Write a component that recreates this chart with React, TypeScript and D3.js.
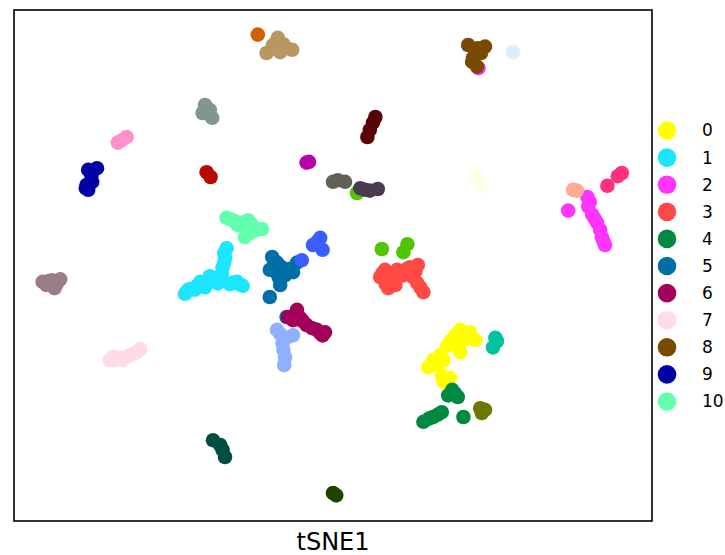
import * as d3 from 'd3';

type Pt = [number, number];

// palette used for the clusters (index = cluster id)
const palette: string[] = [
  '#FFFF00', '#1CE6FF', '#FF34FF', '#FF4A46', '#008941', '#006FA6', '#A30059', '#FFDBE5',
  '#7A4900', '#0000A6', '#63FFAC', '#B79762', '#004D43', '#8FB0FF', '#997D87', '#5A0007',
  '#809693', '#FEFFE6', '#1B4400', '#4FC601', '#3B5DFF', '#4A3B53', '#FF2F80', '#61615A',
  '#BA0900', '#6B7900', '#00C2A0', '#FFAA92', '#FF90C9', '#B903AA', '#D16100', '#DDEFFF',
];

const legendLabels = ['0', '1', '2', '3', '4', '5', '6', '7', '8', '9', '10'];

// tSNE coordinates per cluster
const c0: Pt[] = [[15.9, -8.1], [17.1, -8.4], [17.8, -9.4], [16.3, -9.4], [15.0, -9.8], [14.3, -10.1], [15.9, -10.9], [13.4, -11.3], [12.5, -11.9], [11.9, -12.8], [13.8, -11.9], [13.6, -13.8], [14.6, -14.1], [13.8, -14.6], [15.3, -8.8], [13.0, -12.5], [16.5, -8.6], [14.7, -9.5]];
const c1: Pt[] = [[-13.3, 2.1], [-13.5, 0.9], [-13.8, -0.3], [-13.9, -1.1], [-15.4, -1.4], [-16.6, -2.1], [-17.9, -3.0], [-18.5, -3.6], [-12.0, -2.1], [-11.3, -2.6], [-14.4, -2.3], [-12.9, -2.4], [-16.0, -2.8], [-17.3, -3.1], [-15.0, -1.9], [-14.7, -1.7], [-17.0, -2.6], [-18.2, -3.2], [-13.6, 1.5], [-13.6, 0.3], [-12.5, -2.2], [-11.7, -2.4]];
const c2: Pt[] = [[31.8, 8.5], [31.9, 7.3], [32.4, 6.3], [33.0, 5.3], [33.6, 3.5], [34.0, 2.5], [29.4, 6.8], [33.4, 4.4], [32.1, 7.9], [18.2, 24.6], [32.7, 5.8], [33.8, 3.0]];
const c3: Pt[] = [[6.5, -0.6], [5.9, -1.5], [7.1, -1.9], [6.9, -2.9], [8.0, -0.6], [9.6, -0.3], [10.6, 0.0], [10.0, -1.5], [10.9, -2.8], [11.3, -3.4], [8.8, -1.3], [7.8, -2.5], [6.2, -1.0], [7.5, -1.2], [9.2, -0.5], [10.3, -0.8], [10.5, -2.2], [6.6, -2.4]];
const c4: Pt[] = [[14.9, -15.6], [15.6, -16.5], [14.4, -16.3], [13.6, -18.4], [12.5, -19.0], [11.3, -19.6], [16.3, -19.0], [12.0, -19.2], [13.1, -18.7], [15.2, -16.0]];
const c5: Pt[] = [[-7.6, 1.0], [-7.9, -0.6], [-6.4, -0.3], [-6.6, -2.5], [-5.0, -0.9], [-4.5, 0.3], [-7.9, -4.0], [-6.0, -1.3], [-5.8, -6.5], [-7.0, 0.3], [-5.5, -0.5], [-6.8, -1.5], [-7.2, -0.8]];
const c6: Pt[] = [[-4.5, -5.6], [-5.0, -6.9], [-3.3, -7.5], [-2.0, -8.1], [-1.3, -8.8], [-5.6, -6.5], [-4.1, -6.6], [-2.6, -7.9], [-1.0, -8.4], [-3.8, -7.0], [-1.6, -8.5]];
const c7: Pt[] = [[-27.9, -11.9], [-26.9, -11.6], [-26.3, -11.9], [-25.4, -11.3], [-24.5, -10.9], [-24.1, -10.5], [-27.5, -11.5], [-26.0, -11.6], [-25.0, -11.1], [-27.3, -11.9]];
const c8: Pt[] = [[16.9, 27.5], [19.0, 27.3], [17.5, 25.9], [18.0, 24.8], [17.4, 25.4], [18.1, 27.1], [17.8, 26.5], [18.5, 26.5]];
const c9: Pt[] = [[-29.5, 12.1], [-30.6, 11.9], [-30.1, 10.4], [-30.6, 9.4], [-30.9, 9.6], [-30.2, 11.2], [-30.8, 10.0]];
const c10: Pt[] = [[-13.3, 5.9], [-12.3, 5.5], [-11.4, 5.3], [-10.6, 5.6], [-10.0, 4.6], [-8.9, 4.5], [-11.0, 3.5], [-10.4, 4.0], [-12.8, 5.7], [-11.9, 5.0], [-10.2, 5.1], [-9.5, 4.4]];
const c11: Pt[] = [[-6.9, 28.4], [-5.8, 27.1], [-7.5, 27.5], [-8.3, 26.5], [-5.1, 26.9], [-6.6, 26.6], [-6.2, 27.6], [-7.0, 27.0]];
const c12: Pt[] = [[-15.0, -21.9], [-14.1, -22.5], [-13.8, -23.1], [-13.5, -24.0]];
const c13: Pt[] = [[-7.0, -8.1], [-5.0, -8.8], [-6.3, -9.8], [-6.0, -11.5], [-6.1, -12.5], [-5.8, -9.1], [-6.2, -10.6], [-6.6, -8.6]];
const c14: Pt[] = [[-36.3, -2.1], [-35.1, -1.9], [-34.1, -1.8], [-34.8, -2.9], [-35.8, -2.5], [-35.5, -2.0], [-34.5, -2.3]];
const c15: Pt[] = [[5.3, 18.5], [5.0, 17.8], [4.6, 16.9], [4.3, 16.0]];
const c16: Pt[] = [[-16.0, 20.0], [-15.4, 19.4], [-15.1, 18.4], [-16.3, 19.0], [-15.8, 19.6], [-15.6, 18.9]];
const c17: Pt[] = [[17.8, 11.3], [18.6, 9.8], [18.1, 10.5]];
const c18: Pt[] = [[0.0, -28.5], [0.4, -28.8]];
const c19: Pt[] = [[6.1, 2.0], [9.3, 2.6], [8.8, 1.6], [3.0, 9.0]];
const c20: Pt[] = [[-1.6, 3.4], [-2.5, 2.5], [-1.3, 1.9], [-2.0, 2.9], [-3.9, 0.6]];
const c21: Pt[] = [[3.4, 9.6], [4.6, 9.3], [5.6, 9.5], [4.0, 9.4]];
const c22: Pt[] = [[35.6, 11.1], [36.1, 11.5], [34.3, 9.9]];
const c23: Pt[] = [[0.6, 10.6], [1.5, 10.4], [0.0, 10.4]];
const c24: Pt[] = [[-15.8, 11.6], [-15.3, 11.0]];
const c25: Pt[] = [[18.4, -17.9], [19.0, -18.1], [18.6, -18.5]];
const c26: Pt[] = [[20.3, -9.1], [20.0, -10.3], [20.5, -9.5]];
const c27: Pt[] = [[30.0, 9.4], [30.5, 9.3]];
const c28: Pt[] = [[-25.8, 16.0], [-26.9, 15.3], [-26.4, 15.6]];
const c29: Pt[] = [[-3.3, 12.8], [-3.0, 12.9]];
const c30: Pt[] = [[-9.4, 28.8]];
const c31: Pt[] = [[22.5, 26.6]];

const clusters: Pt[][] = [
  c0, c1, c2, c3, c4, c5, c6, c7, c8, c9, c10, c11, c12, c13, c14, c15,
  c16, c17, c18, c19, c20, c21, c22, c23, c24, c25, c26, c27, c28, c29, c30, c31,
];

const App = () => {
  const width = 725;
  const height = 555;
  const margin = { top: 10, right: 73, bottom: 34, left: 14 };
  const plotW = width - margin.left - margin.right;
  const plotH = height - margin.top - margin.bottom;

  const x = d3.scaleLinear().domain([-39.875, 39.875]).range([margin.left, margin.left + plotW]);
  const y = d3.scaleLinear().domain([-32, 31.875]).range([margin.top + plotH, margin.top]);

  const legendX = 667;
  const legendY = 130.5;
  const legendStep = 27.1;

  return (
    <svg
      width={width}
      height={height}
      style={{ position: 'absolute', left: 0, top: 0, background: '#fff' }}
      fontFamily="DejaVu Sans, sans-serif"
    >
      {/* points, one cluster after another */}
      <g>
        {clusters.map((pts, ci) =>
          pts.map((p, i) => (
            <circle key={`${ci}-${i}`} cx={x(p[0])} cy={y(p[1])} r={7.3} fill={palette[ci]} />
          ))
        )}
      </g>
      {/* frame */}
      <rect
        x={margin.left}
        y={margin.top}
        width={plotW}
        height={plotH}
        fill="none"
        stroke="#000"
        strokeWidth={1.6}
      />
      <text x={margin.left + plotW / 2} y={550} textAnchor="middle" fontSize={24} fill="#000">
        tSNE1
      </text>
      {/* legend */}
      <g>
        {legendLabels.map((lab, i) => (
          <g key={lab} transform={`translate(${legendX},${legendY + i * legendStep})`}>
            <circle r={9.3} fill={palette[i]} />
            <text x={35} dy="0.35em" fontSize={17} fill="#000">
              {lab}
            </text>
          </g>
        ))}
      </g>
    </svg>
  );
};

export default App;
